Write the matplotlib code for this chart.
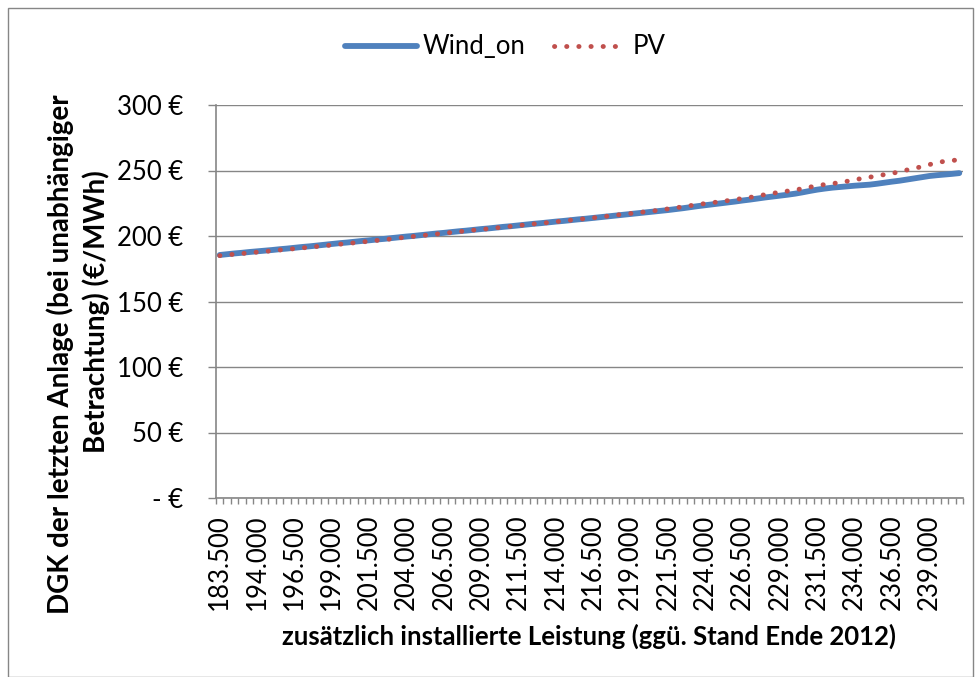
import matplotlib
matplotlib.use("Agg")
import matplotlib.pyplot as plt
from matplotlib.patches import Rectangle
from matplotlib.ticker import FixedLocator, NullFormatter

plt.rcParams["font.family"] = ["Lato", "DejaVu Sans"]

# zusätzlich installierte Leistung (MW), Kategorien der x-Achse
categories = [183500, 191500, 192500, 193000, 193500] + list(range(194000, 241001, 500))

wind_on = [
    185.5, 186.1, 186.7, 187.2, 187.8, 188.3, 188.8, 189.3, 189.9, 190.4,
    191.0, 191.6, 192.1, 192.7, 193.3, 193.9, 194.5, 195.0, 195.6, 196.2,
    196.7, 197.3, 197.8, 198.4, 199.0, 199.6, 200.1, 200.7, 201.3, 201.9,
    202.4, 203.0, 203.6, 204.1, 204.7, 205.3, 205.8, 206.4, 207.0, 207.5,
    208.1, 208.7, 209.3, 209.8, 210.4, 211.0, 211.5, 212.1, 212.7, 213.2,
    213.8, 214.4, 215.0, 215.6, 216.2, 216.8, 217.4, 218.0, 218.6, 219.2,
    219.8, 220.5, 221.2, 222.0, 222.8, 223.5, 224.2, 224.9, 225.6, 226.3,
    227.1, 227.8, 228.6, 229.4, 230.1, 230.8, 231.5, 232.3, 233.3, 234.4,
    235.4, 236.2, 236.9, 237.4, 237.9, 238.4, 238.8, 239.2, 239.9, 240.7,
    241.5, 242.2, 243.1, 244.0, 244.9, 245.8, 246.4, 246.9, 247.4, 248.0,
]

pv = [
    185.0, 185.6, 186.1, 186.6, 187.2, 187.7, 188.2, 188.7, 189.3, 189.8,
    190.3, 190.9, 191.4, 192.0, 192.5, 193.1, 193.7, 194.2, 194.8, 195.4,
    196.0, 196.6, 197.2, 197.8, 198.5, 199.1, 199.7, 200.3, 200.9, 201.5,
    202.1, 202.7, 203.3, 203.9, 204.5, 205.0, 205.6, 206.2, 206.8, 207.4,
    208.0, 208.6, 209.2, 209.7, 210.3, 210.9, 211.5, 212.1, 212.7, 213.3,
    213.9, 214.5, 215.2, 215.9, 216.6, 217.2, 217.8, 218.5, 219.1, 219.9,
    220.7, 221.5, 222.3, 223.2, 224.0, 224.8, 225.5, 226.2, 227.0, 227.8,
    228.7, 229.5, 230.5, 231.6, 232.6, 233.4, 234.3, 235.1, 236.2, 237.3,
    238.5, 239.3, 240.0, 240.8, 241.8, 242.9, 244.0, 244.9, 245.9, 246.9,
    247.8, 249.1, 250.4, 251.6, 253.0, 254.5, 256.0, 257.0, 257.6, 258.2,
]

y_ticks = [0, 50, 100, 150, 200, 250, 300]
y_labels = ["- €", "50 €", "100 €", "150 €", "200 €", "250 €", "300 €"]

GRAY = "#868686"
FS = 18.5

fig = plt.figure(figsize=(9.8, 6.77), dpi=100)
ax = fig.add_axes([216 / 980, 1 - 498 / 677, (963 - 216) / 980, (498 - 105) / 677])

x = list(range(len(categories)))
ax.plot(x, wind_on, color="#4F81BD", lw=4.2, solid_capstyle="round", label="Wind_on")
ax.plot(x, pv, color="#C0504D", lw=3.5, linestyle=(0, (0.05, 2.45)),
        dash_capstyle="round", label="PV")

ax.set_xlim(-0.5, len(categories) - 0.5)
ax.set_ylim(0, 300)

ax.set_yticks(y_ticks)
ax.set_yticklabels(y_labels, fontsize=FS)
ax.yaxis.grid(True, color=GRAY, lw=1)
ax.set_axisbelow(True)

label_pos = x[::5]
ax.set_xticks(label_pos)
ax.set_xticklabels([f"{c / 1000:.3f}" for c in categories[::5]], rotation=90, fontsize=FS)
ax.xaxis.set_minor_locator(FixedLocator([i - 0.5 for i in range(len(categories) + 1)]))
ax.xaxis.set_minor_formatter(NullFormatter())

ax.tick_params(axis="x", which="major", length=0, pad=12)
ax.tick_params(axis="x", which="minor", length=4.5, color=GRAY, width=1)
ax.tick_params(axis="y", length=5.8, color=GRAY, width=1, pad=18)

for s in ["top", "right"]:
    ax.spines[s].set_visible(False)
for s in ["left", "bottom"]:
    ax.spines[s].set_color(GRAY)
    ax.spines[s].set_linewidth(1.2)

fig.text(589 / 980, 1 - 636 / 677, "zusätzlich installierte Leistung (ggü. Stand Ende 2012)",
         ha="center", va="center", fontsize=FS, fontweight="bold")
fig.text(60 / 980, 1 - 354 / 677, "DGK der letzten Anlage (bei unabhängiger",
         ha="center", va="center", rotation=90, fontsize=20, fontweight="bold")
fig.text(96 / 980, 1 - 312 / 677, "Betrachtung) (€/MWh)",
         ha="center", va="center", rotation=90, fontsize=20, fontweight="bold")

fig.legend(loc="center", bbox_to_anchor=(505 / 980, 1 - 47 / 677), ncol=2, frameon=False,
           fontsize=FS, handlelength=2.8, columnspacing=1.1, handletextpad=0.25)

fig.patches.append(Rectangle((8 / 980, 0), 965 / 980, 1 - 8 / 677, transform=fig.transFigure,
                             fill=False, edgecolor=GRAY, lw=1))

fig.savefig("out.png", dpi=100)
